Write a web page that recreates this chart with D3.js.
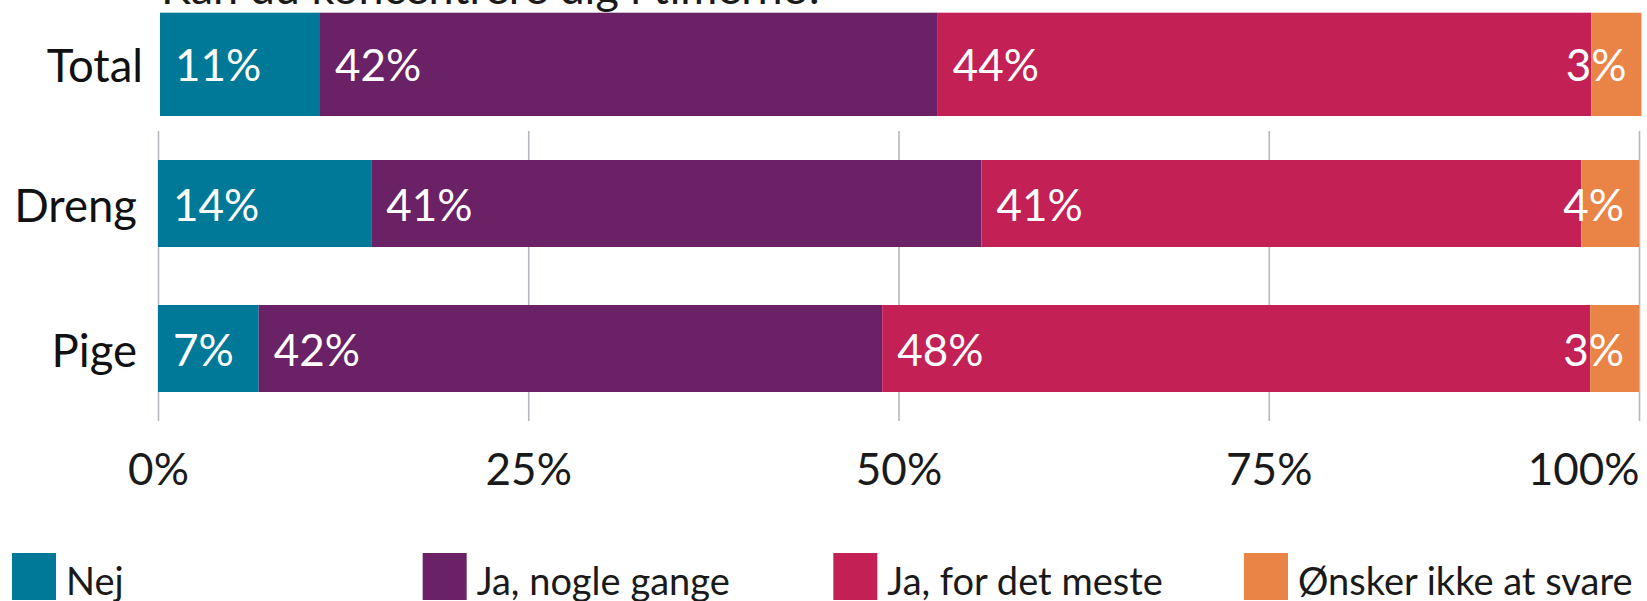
<!DOCTYPE html>
<html>
<head>
<meta charset="utf-8">
<script src="https://cdn.jsdelivr.net/npm/d3@7"></script>
<style>
  html, body { margin: 0; padding: 0; background: #ffffff; }
  svg { display: block; font-family: Lato, "Open Sans", sans-serif; }
</style>
</head>
<body>
<svg id="chart" width="1647" height="601"></svg>
<script>
// ---- data ----
const title = "Kan du koncentrere dig i timerne?";
const categories = ["Total", "Dreng", "Pige"];
const seriesNames = ["Nej", "Ja, nogle gange", "Ja, for det meste", "Ønsker ikke at svare"];
const nej = [10.8, 14.4, 6.8];
const jaNogleGange = [41.7, 41.2, 42.1];
const jaForDetMeste = [44.1, 40.5, 47.8];
const onskerIkke = [3.4, 3.9, 3.3];
const tickValues = [0, 25, 50, 75, 100];
const tickLabels = ["0%", "25%", "50%", "75%", "100%"];
const colors = ["#007897", "#6a2166", "#c32056", "#ea8446"];

// ---- build table ----
const seriesValues = [nej, jaNogleGange, jaForDetMeste, onskerIkke];
const table = categories.map((c, i) => {
  const row = { category: c };
  seriesNames.forEach((s, j) => { row[s] = seriesValues[j][i]; });
  return row;
});
const stacked = d3.stack().keys(seriesNames)(table);
const color = d3.scaleOrdinal(seriesNames, colors);

const svg = d3.select("#chart");
const FS = 44;

// scales: "Total" panel and the Dreng/Pige panel
const xTotal = d3.scaleLinear([0, 100], [160, 1641.5]);
const xGroup = d3.scaleLinear([0, 100], [158, 1639]);
const yTotal = d3.scaleBand(["Total"], [12.7, 116]).padding(0);
const yGroup = d3.scaleBand(["Dreng", "Pige"], [131, 421]).paddingInner(0.4).paddingOuter(0.2);
const xFor = c => c === "Total" ? xTotal : xGroup;
const yFor = c => c === "Total" ? yTotal : yGroup;

// title (cut off at the top, as in the reference)
svg.append("text")
  .attr("x", 161).attr("y", 4)
  .attr("font-size", 45).attr("fill", "#1a1a1a")
  .text(title);

// gridlines + axis for group panel
const axis = d3.axisBottom(xGroup)
  .tickValues(tickValues)
  .tickFormat((d, i) => tickLabels[i])
  .tickSize(-(yGroup.range()[1] - yGroup.range()[0]))
  .tickPadding(0);
const axG = svg.append("g")
  .attr("transform", `translate(0,${yGroup.range()[1]})`)
  .call(axis);
axG.select(".domain").remove();
axG.selectAll(".tick line").attr("stroke", "#b3b9bf").attr("stroke-width", 1.6);
axG.selectAll(".tick text")
  .attr("y", 64).attr("dy", 0)
  .attr("font-size", FS).attr("font-family", "Lato, sans-serif")
  .attr("fill", "#1a1a1a")
  .attr("text-anchor", (d, i) => i === tickValues.length - 1 ? "end" : "middle");

// bars
const segs = [];
stacked.forEach(s => {
  s.forEach(d => segs.push({ key: s.key, x0: d[0], x1: d[1], cat: d.data.category, value: d.data[s.key] }));
});

svg.append("g").selectAll("rect")
  .data(segs)
  .join("rect")
  .attr("x", d => xFor(d.cat)(d.x0))
  .attr("width", d => xFor(d.cat)(d.x1) - xFor(d.cat)(d.x0))
  .attr("y", d => yFor(d.cat)(d.cat))
  .attr("height", d => yFor(d.cat).bandwidth())
  .attr("fill", d => color(d.key));

// value labels
const labels = svg.append("g").selectAll("text")
  .data(segs)
  .join("text")
  .attr("font-size", FS)
  .attr("fill", "#ffffff")
  .attr("y", d => yFor(d.cat)(d.cat) + yFor(d.cat).bandwidth() / 2 + 17)
  .text(d => d3.format(".0f")(d.value) + "%");
labels.each(function (d) {
  const w = this.getComputedTextLength();
  const x = xFor(d.cat);
  const pos = Math.min(x(d.x0) + 15, x(100) - 15 - w);
  d3.select(this).attr("x", pos);
});

// category labels
svg.append("g").selectAll("text")
  .data(categories)
  .join("text")
  .attr("text-anchor", "end")
  .attr("font-size", 45.5)
  .attr("fill", "#111111")
  .attr("x", c => xFor(c)(0) - (c === "Total" ? 17 : 21))
  .attr("y", c => yFor(c)(c) + yFor(c).bandwidth() / 2 + 18)
  .text(c => c);

// legend
const legendX = d3.scalePoint(seriesNames, [12, 1244]);
const lg = svg.append("g").selectAll("g")
  .data(seriesNames)
  .join("g")
  .attr("transform", d => `translate(${legendX(d)},553)`);
lg.append("rect")
  .attr("width", 44).attr("height", 47)
  .attr("fill", d => color(d));
lg.append("text")
  .attr("x", 54).attr("y", 42)
  .attr("font-size", 38)
  .attr("fill", "#1a1a1a")
  .text(d => d);
</script>
</body>
</html>
